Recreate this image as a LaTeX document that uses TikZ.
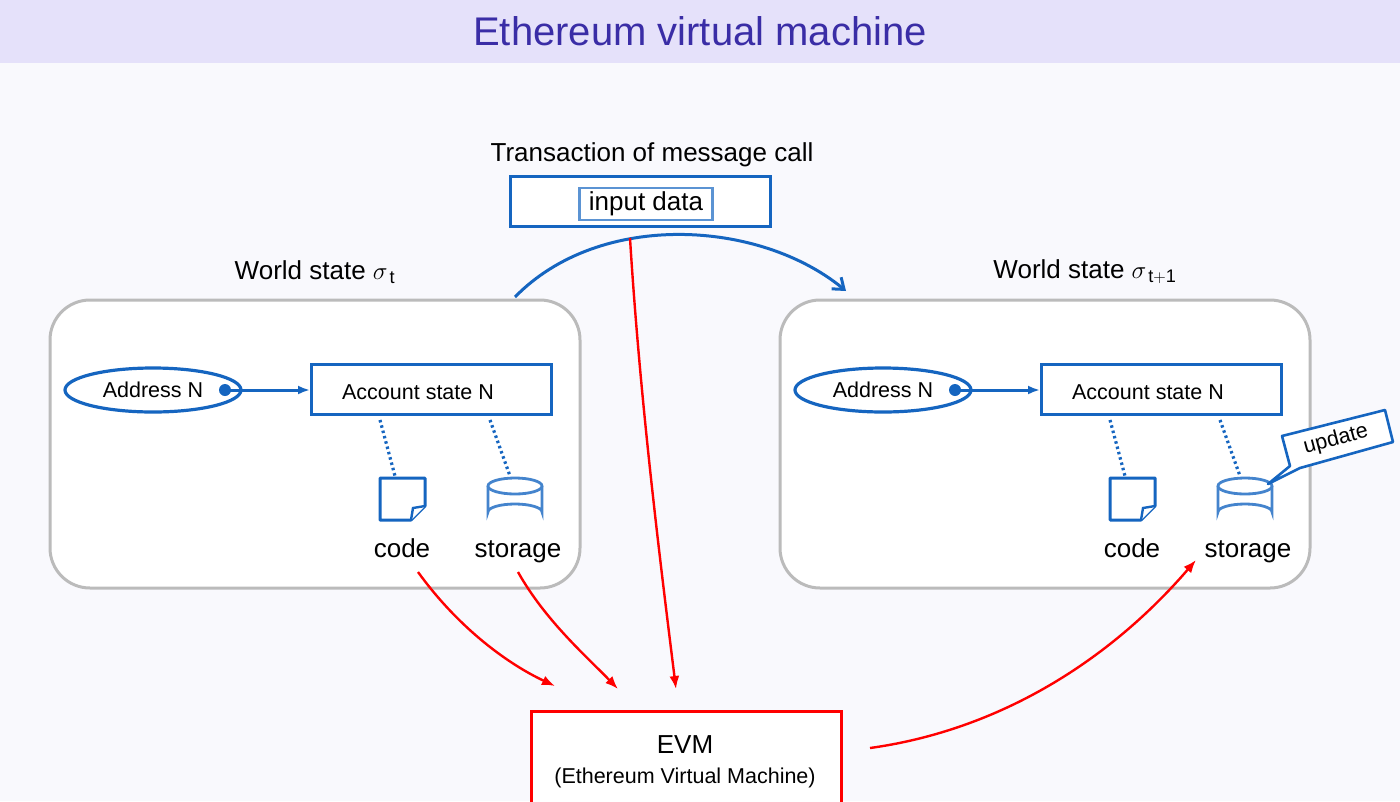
\documentclass[tikz,border=0pt]{standalone}
\usepackage{fontspec}
\setmainfont{Liberation Sans}
\usetikzlibrary{arrows.meta,shapes.geometric}
\definecolor{bg}{HTML}{F9F9FD}
\definecolor{band}{HTML}{E5E1FA}
\definecolor{ttl}{HTML}{3A2DA6}
\definecolor{bl}{HTML}{1565C0}
\definecolor{gr}{HTML}{BBBBBB}
\tikzset{
 bbox/.style={draw=bl,line width=3pt,fill=white},
 world/.style={draw=gr,line width=3pt,rounded corners=40pt,fill=white},
 red arr/.style={draw=red,line width=2.4pt,-{Latex[length=13pt,width=10pt]}},
 dots/.style={draw=bl,line width=3.2pt,dash pattern=on 2.5pt off 3pt},
 lbl/.style={font=\fontsize{21.5}{25}\selectfont},
 big/.style={font=\fontsize{26}{30}\selectfont},
}
\begin{document}
\begin{tikzpicture}[x=1pt,y=-1pt]
\useasboundingbox (0,0) rectangle (1400,801);
\fill[bg] (0,0) rectangle (1400,801);
\fill[band] (0,0) rectangle (1400,63);
\node[text=ttl,font=\fontsize{40}{44}\selectfont] (title) at (700,31) {Ethereum virtual machine};
\node[big] (tx) at (652,155) {Transaction of message call};
\node[bbox,minimum width=260pt,minimum height=50pt] (txb) at (640,201) {};
\node[draw=bl!70,line width=2.4pt,fill=white,minimum width=133pt,minimum height=32pt,big] (inp) at (646,204) {input data};
% worlds
\foreach \o/\n in {0/L,730/R}{
 \begin{scope}[xshift=\o pt]
 \draw[world] (50,300) rectangle (580,588);
 \node[draw=bl,line width=3.2pt,ellipse,minimum width=176pt,minimum height=44pt,fill=white,lbl] (addr\n) at (153,390) {Address N};
 \node[bbox,minimum width=240pt,minimum height=50pt,anchor=north west] (acc\n) at (310,363) {};
 \node[lbl] at (418,392) {Account state N};
 \fill[bl] (225,390) circle (6pt);
 \coordinate (dot\n) at (225,390);
 \draw[bl,line width=3pt,-{Latex[length=12pt,width=9pt]}] (dot\n) -- (310,390);
 \draw[dots] (380,420) -- (395,476);
 \draw[dots] (490,420) -- (510,476);
 \draw[bl,line width=3pt,fill=white,line join=round] (380,478) -- (425,478) -- (425,506) -- (411,520) -- (380,520) -- cycle;
 \draw[bl,line width=2.4pt,fill=white] (425,506) -- (413,508) -- (411,520);
 \draw[bl!80,line width=2.8pt,fill=white] (488,486) -- (488,512) arc[start angle=180,end angle=360,x radius=27,y radius=8] -- (542,486);
 \draw[bl!80,line width=2.8pt,fill=white] (515,486) ellipse[x radius=27,y radius=8];
 \node[big,anchor=base] (code\n) at (402,557) {code};
 \node[big,anchor=base] (stor\n) at (518,557) {storage};
 \end{scope}}
\node[big] (wl) at (315,272) {World state $\sigma_{\,\mathrm{t}}$};
\node[big] (wr) at (1085,272) {World state $\sigma_{\,\mathrm{t+1}}$};
% update callout
\coordinate (cp) at (1268,484);
\draw[bl,line width=2.6pt,fill=white,line join=round] (cp) -- (1290,466) -- (1282,436) -- (1385,410) -- (1393,442) -- (1300,468) -- cycle;
\node[lbl,rotate=15,inner sep=0pt] (upd) at (1336,440) {update};
% blue arc
\coordinate (a1) at (515,297);
\coordinate (a2) at (846,291);
\draw[bl,line width=3pt,-{Straight Barb[length=10pt,width=15pt]}] (a1) .. controls (600,210) and (760,220) .. (a2);
% EVM
\node[draw=red,line width=3pt,fill=white,minimum width=310pt,minimum height=100pt,anchor=north west] (evm) at (530,710) {};
\node[big] (evmt) at (685,745) {EVM};
\node[font=\fontsize{21.5}{25}\selectfont] (evms) at (685,778) {(Ethereum Virtual Machine)};
\coordinate (e1) at (555,686);
\coordinate (e2) at (618,689);
\coordinate (e3) at (676,689);
\coordinate (e4) at (870,748);
\coordinate (s1) at (418,572);
\coordinate (s2) at (518,572);
\coordinate (s3) at (630,238);
\coordinate (s4) at (1196,560);
\draw[red arr] (s1) .. controls (460,630) and (510,665) .. (e1);
\draw[red arr] (s2) .. controls (545,620) and (585,655) .. (e2);
\draw[red arr] (s3) .. controls (640,400) and (660,560) .. (e3);
\draw[red arr] (e4) .. controls (1000,730) and (1110,660) .. (s4);
\end{tikzpicture}
\end{document}
